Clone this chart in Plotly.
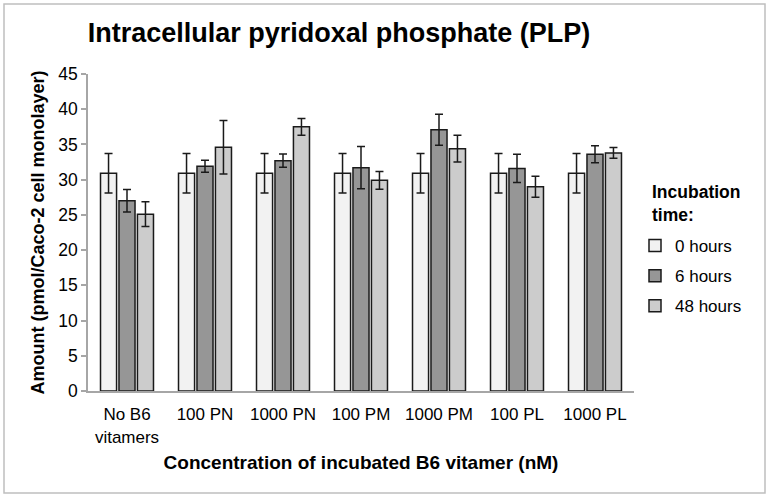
import plotly.graph_objects as go

categories = ["No B6<br>vitamers", "100 PN", "1000 PN", "100 PM", "1000 PM", "100 PL", "1000 PL"]
series_names = ["0 hours", "6 hours", "48 hours"]
values_0h = [30.9, 30.9, 30.9, 30.9, 30.9, 30.9, 30.9]
errors_0h = [2.8, 2.8, 2.8, 2.8, 2.8, 2.8, 2.8]
values_6h = [27.0, 31.9, 32.7, 31.7, 37.1, 31.6, 33.6]
errors_6h = [1.6, 0.85, 0.95, 3.0, 2.2, 2.0, 1.2]
values_48h = [25.1, 34.6, 37.5, 29.9, 34.4, 29.0, 33.8]
errors_48h = [1.75, 3.8, 1.2, 1.25, 1.9, 1.5, 0.75]
y_ticks = [0, 5, 10, 15, 20, 25, 30, 35, 40, 45]

colors = ["#F2F2F2", "#969696", "#CCCCCC"]
FONT = "Liberation Sans, Arial, sans-serif"

fig = go.Figure()
for name, vals, errs, col in zip(series_names,
                                 [values_0h, values_6h, values_48h],
                                 [errors_0h, errors_6h, errors_48h],
                                 colors):
    fig.add_trace(go.Bar(
        x=categories, y=vals, name=name, legendgroup=name,
        marker=dict(color=col, line=dict(color="#1a1a1a", width=1.5)),
        error_y=dict(type="data", array=errs, visible=True,
                     color="#1a1a1a", thickness=1.5, width=4),
    ))

W, H = 770, 498
ml, mr, mt, mb = 88, 136, 74, 107
pw, ph = W - ml - mr, H - mt - mb

fig.update_layout(
    width=W, height=H,
    margin=dict(l=ml, r=mr, t=mt, b=mb, autoexpand=False),
    paper_bgcolor="white", plot_bgcolor="white",
    font=dict(family=FONT, color="black", size=17),
    barmode="group", bargap=0.29, bargroupgap=0.13,
    title=dict(text="<b>Intracellular pyridoxal phosphate (PLP)</b>",
               font=dict(size=27, family=FONT, color="black"),
               x=339 / W, xanchor="center", xref="container",
               y=1 - 33 / H, yanchor="middle", yref="container"),
    xaxis=dict(showline=True, linecolor="#A6A6A6", linewidth=2,
               ticks="", tickfont=dict(size=17), automargin=False,
               ticklabelstandoff=7,
               title=dict(text="<b>Concentration of incubated B6 vitamer (nM)</b>",
                          font=dict(size=19), standoff=10)),
    yaxis=dict(range=[0, 45], tickvals=y_ticks, showline=True,
               linecolor="#A6A6A6", linewidth=1.5, ticks="outside",
               tickcolor="#A6A6A6", ticklen=5, tickwidth=1.5, automargin=False,
               showgrid=False, zeroline=False, tickfont=dict(size=17.5),
               title=dict(text="<b>Amount (pmol/Caco-2 cell monolayer)</b>",
                          font=dict(size=18), standoff=9)),
    legend=dict(x=(635 - ml) / pw, xanchor="left", xref="paper",
                y=1 - (228 - mt) / ph, yanchor="top",
                font=dict(size=17), tracegroupgap=5,
                traceorder="grouped", bgcolor="rgba(0,0,0,0)"),
    showlegend=True,
)

fig.add_annotation(text="<b>Incubation<br>time:</b>", xref="paper", yref="paper",
                   x=(650 - ml) / pw, y=1 - (180 - mt) / ph,
                   xanchor="left", yanchor="top", align="left",
                   showarrow=False, font=dict(size=17.5, family=FONT))

fig.add_shape(type="rect", xref="paper", yref="paper",
              x0=(4 - ml) / pw, x1=(765 - ml) / pw,
              y0=(H - mb - 493) / ph, y1=(H - mb - 4) / ph,
              line=dict(color="#BFBFBF", width=1.5), layer="below")

fig.write_html("out.html", config={"displayModeBar": False},
               post_script="document.body.style.margin='0px';")
